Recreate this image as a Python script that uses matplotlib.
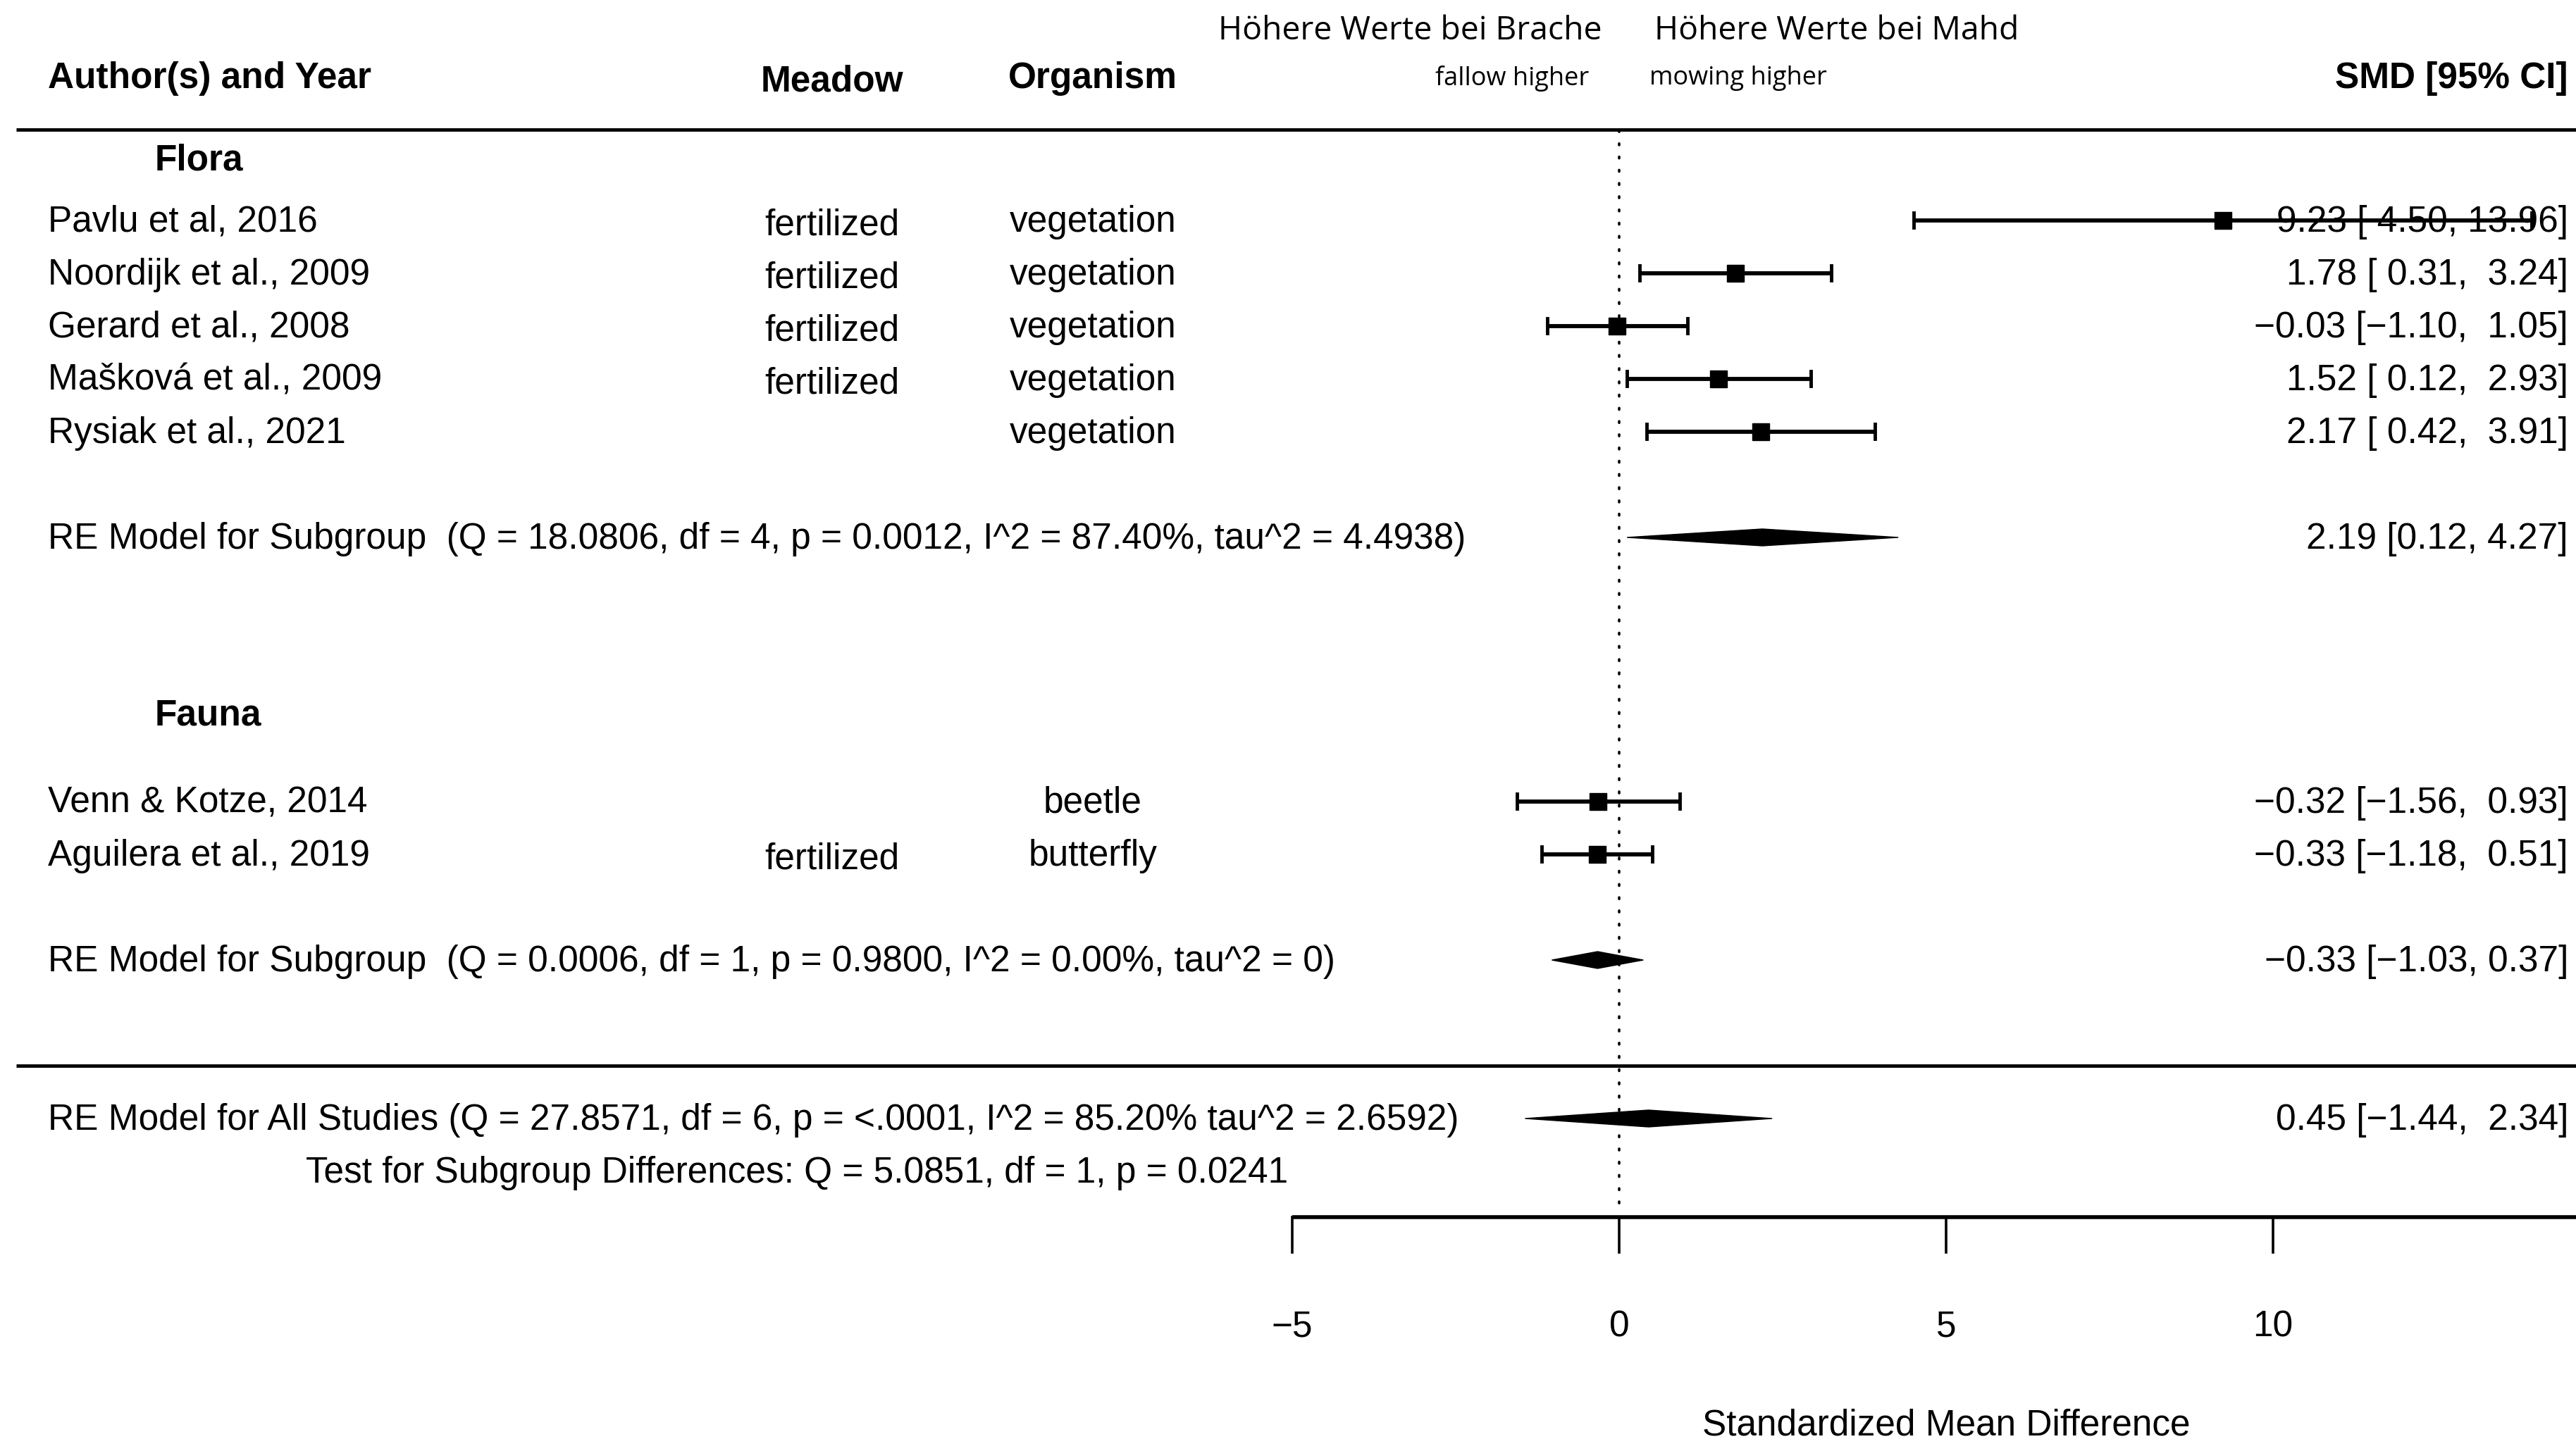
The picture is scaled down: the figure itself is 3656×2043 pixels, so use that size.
import numpy as np
import matplotlib
matplotlib.use("Agg")
import matplotlib.pyplot as plt

plt.rcParams['font.family'] = ['Liberation Sans', 'DejaVu Sans']

studien = ["Pavlu et al, 2016", "Noordijk et al., 2009", "Gerard et al., 2008",
           "Mašková et al., 2009", "Rysiak et al., 2021",
           "Venn & Kotze, 2014", "Aguilera et al., 2019"]
wiese = ["fertilized", "fertilized", "fertilized", "fertilized", "",
         "", "fertilized"]
organismus = ["vegetation", "vegetation", "vegetation", "vegetation", "vegetation",
              "beetle", "butterfly"]
smd = [9.23, 1.78, -0.03, 1.52, 2.17, -0.32, -0.33]
ci_unten = [4.50, 0.31, -1.10, 0.12, 0.42, -1.56, -1.18]
ci_oben = [13.96, 3.24, 1.05, 2.93, 3.91, 0.93, 0.51]

# Modelle: Flora, Fauna, alle
modell_est = [2.19, -0.33, 0.45]
modell_lo = [0.12, -1.03, -1.44]
modell_hi = [4.27, 0.37, 2.34]
modell_text = ["RE Model for Subgroup  (Q = 18.0806, df = 4, p = 0.0012, I^2 = 87.40%, tau^2 = 4.4938)",
               "RE Model for Subgroup  (Q = 0.0006, df = 1, p = 0.9800, I^2 = 0.00%, tau^2 = 0)",
               "RE Model for All Studies (Q = 27.8571, df = 6, p = <.0001, I^2 = 85.20% tau^2 = 2.6592)"]
modell_pad = [False, False, True]
test_text = "Test for Subgroup Differences: Q = 5.0851, df = 1, p = 0.0241"

ticks = [-5, 0, 5, 10]

# Layout (Zeilen wie bei metafor)
zeilen = [19, 18, 17, 16, 15, 8, 7]
modell_zeilen = [13, 5, 2]
fs = 37
dy = -0.03  # kleine Verschiebung der Textzeilen nach unten

def fmt(est, lo, hi, pad=True):
    if pad:
        s = f"{est:.2f} [{lo:5.2f}, {hi:5.2f}]"
    else:
        s = f"{est:.2f} [{lo:.2f}, {hi:.2f}]"
    return s.replace("-", "\u2212")

fig = plt.figure(figsize=(36.56, 20.43), dpi=100)
ax = fig.add_axes([0, 0, 1, 1])
ax.set_xlim(-24.763, 14.634)
ax.set_ylim(-4.067, 23.173)
ax.axis('off')

x_autor = -24.03
x_wiese = -12.04
x_org = -8.05
x_rechts = 14.515

# Kopfzeile
yk = 21.75 - 0.06
ax.text(x_autor, yk, "Author(s) and Year", fontsize=fs, fontweight='bold', va='center')
ax.text(x_wiese, yk - 0.06, "Meadow", fontsize=fs, fontweight='bold', va='center', ha='center')
ax.text(x_org, yk, "Organism", fontsize=fs, fontweight='bold', va='center', ha='center')
ax.text(x_rechts, yk, "SMD [95% CI]", fontsize=fs, fontweight='bold', va='center', ha='right')
ax.text(-0.26, 22.58, "Höhere Werte bei Brache", fontsize=33.3, family='Open Sans', va='center', ha='right')
ax.text(0.54, 22.58, "Höhere Werte bei Mahd", fontsize=33.3, family='Open Sans', va='center', ha='left')
ax.text(-0.46, yk, "fallow higher", fontsize=26, family='Open Sans', va='center', ha='right')
ax.text(0.46, yk, "mowing higher", fontsize=26, family='Open Sans', va='center', ha='left')

# Linien
ax.plot([-24.51, 14.634], [20.72, 20.72], color='black', lw=3.5, solid_capstyle='butt')
ax.plot([-24.51, 14.634], [3, 3], color='black', lw=3.5, solid_capstyle='butt')
ax.plot([0, 0], [20.7, 0.2], color='black', lw=2.6, linestyle=(0, (0.6, 4.6)), dash_capstyle='round')

# Gruppen
ax.text(-22.40, 20.19 - 0.06, "Flora", fontsize=fs, fontweight='bold', va='center')
ax.text(-22.40, 9.68 - 0.06, "Fauna", fontsize=fs, fontweight='bold', va='center')

for i in range(len(studien)):
    y = zeilen[i]
    ax.text(x_autor, y + dy, studien[i], fontsize=fs, va='center')
    ax.text(x_wiese, y + dy - 0.06, wiese[i], fontsize=fs, va='center', ha='center')
    ax.text(x_org, y + dy, organismus[i], fontsize=fs, va='center', ha='center')
    ax.text(x_rechts, y + dy, fmt(smd[i], ci_unten[i], ci_oben[i]), fontsize=fs, va='center', ha='right')
    ax.plot([ci_unten[i], ci_oben[i]], [y, y], color='black', lw=4.2, solid_capstyle='butt', zorder=5)
    ax.plot([ci_unten[i], ci_unten[i]], [y - 0.14, y + 0.14], color='black', lw=3.5, zorder=5)
    ax.plot([ci_oben[i], ci_oben[i]], [y - 0.14, y + 0.14], color='black', lw=3.5, zorder=5)
    ax.plot(smd[i], y, marker='s', color='black', markersize=17, zorder=6)

for i in range(len(modell_est)):
    y = modell_zeilen[i]
    ax.fill([modell_lo[i], modell_est[i], modell_hi[i], modell_est[i]],
            [y, y + 0.16, y, y - 0.16], color='black', zorder=6)
    ax.text(x_autor, y + dy, modell_text[i], fontsize=fs, va='center')
    ax.text(x_rechts, y + dy, fmt(modell_est[i], modell_lo[i], modell_hi[i], modell_pad[i]),
            fontsize=fs, va='center', ha='right')

ax.text(-20.09, 1 + dy, test_text, fontsize=fs, va='center')

# x-Achse
ax.plot([-5, 14.634], [0.13, 0.13], color='black', lw=4, solid_capstyle='butt')
for t in ticks:
    ax.plot([t, t], [0.13, -0.54], color='black', lw=2.6)
    ax.text(t, -1.89 - 0.06, str(t).replace("-", "\u2212"), fontsize=fs, va='center', ha='center')
ax.text(5, -3.75 - 0.06, "Standardized Mean Difference", fontsize=fs, va='center', ha='center')

fig.savefig("out.png", dpi=100)
